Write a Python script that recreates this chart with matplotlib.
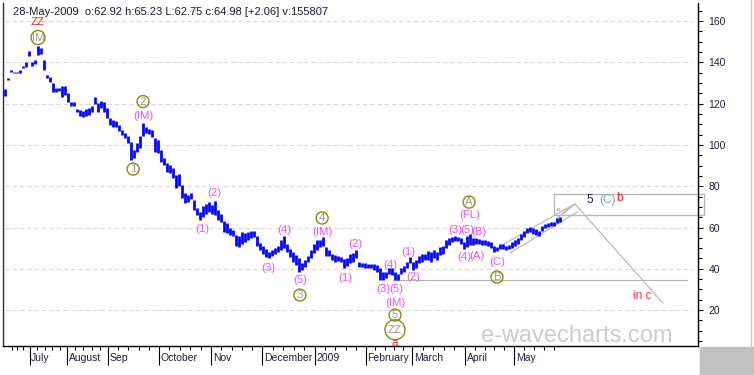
import matplotlib
matplotlib.use('Agg')
import matplotlib.pyplot as plt
import numpy as np
from matplotlib.patches import Rectangle
from matplotlib.lines import Line2D
import matplotlib.transforms as mtransforms

plt.rcParams['font.family'] = ['Liberation Sans', 'DejaVu Sans']

# ---------------- data ----------------
highs = [127.1, 132.4, 136.3, 135.3, 135.3, 136.3, 138.2, 140.2, 145.5, 140.2,
         141.1, 147.9, 146.9, 141.1, 133.8, 132.9, 130.0, 127.6, 127.6, 128.5,
         128.5, 125.1, 120.8, 120.8, 117.4, 116.9, 116.4, 117.4, 117.9, 118.8,
         123.2, 120.3, 121.3, 120.8, 117.9, 113.0, 112.1, 111.6, 109.6, 107.2,
         105.8, 104.3, 101.4, 97.5, 100.9, 104.3, 110.6, 108.7, 107.7, 107.2,
         103.3, 102.4, 97.5, 93.7, 91.2, 90.3, 88.8, 85.4, 85.9, 80.6,
         76.7, 75.7, 76.7, 73.3, 69.4, 67.5, 70.4, 71.4, 72.3, 70.9,
         72.8, 68.5, 66.5, 63.1, 62.2, 59.8, 58.8, 56.4, 55.9, 57.8,
         57.3, 57.8, 58.3, 58.3, 55.9, 52.5, 51.0, 49.6, 48.1, 49.1,
         50.1, 51.0, 53.9, 55.9, 52.0, 49.6, 48.1, 46.7, 45.2, 42.8,
         44.3, 46.2, 49.1, 52.0, 53.9, 53.9, 55.4, 50.6, 49.1, 47.2,
         46.7, 46.2, 45.7, 44.8, 45.2, 47.2, 47.6, 49.1, 43.3, 42.8,
         42.8, 42.3, 42.3, 42.3, 41.8, 40.4, 38.5, 38.5, 40.4, 40.4,
         38.5, 37.5, 40.4, 41.4, 43.3, 45.7, 43.3, 44.3, 46.2, 47.2,
         47.2, 48.6, 48.1, 49.1, 48.1, 50.6, 51.0, 53.9, 54.9, 55.4,
         55.9, 55.4, 54.9, 53.0, 55.9, 56.8, 54.9, 54.9, 54.4, 53.9,
         53.9, 53.5, 53.0, 51.0, 50.6, 52.0, 52.0, 51.0, 51.5, 53.0,
         53.9, 54.9, 56.8, 58.3, 59.8, 60.2, 59.8, 59.3, 58.3, 60.7,
         61.7, 62.2, 62.7, 62.7, 64.6, 65.23]
lows = [123.7, 131.4, 135.3, 134.8, 134.8, 134.8, 137.2, 137.7, 143.0, 138.2,
        139.2, 143.5, 144.0, 136.3, 132.4, 130.5, 125.6, 125.6, 126.1, 123.2,
        124.2, 120.8, 118.8, 118.8, 115.9, 114.0, 113.5, 114.0, 114.5, 115.9,
        119.8, 115.9, 117.9, 115.9, 113.0, 109.6, 108.7, 108.7, 106.7, 104.8,
        103.3, 100.9, 92.7, 93.7, 96.6, 98.5, 104.3, 105.8, 105.3, 103.8,
        96.6, 96.1, 91.7, 90.3, 86.9, 86.4, 84.0, 79.1, 80.1, 74.3,
        71.9, 72.3, 73.8, 68.5, 66.1, 63.6, 65.1, 66.5, 67.5, 66.5,
        66.1, 63.6, 62.7, 57.8, 57.3, 56.4, 55.9, 51.0, 50.6, 52.0,
        53.0, 53.9, 54.9, 55.4, 51.0, 49.1, 47.2, 45.7, 45.2, 46.2,
        47.2, 48.1, 49.1, 50.1, 48.1, 45.7, 43.3, 41.8, 38.5, 39.4,
        40.9, 43.3, 45.2, 47.6, 49.1, 50.6, 51.0, 46.2, 46.2, 44.3,
        43.3, 43.8, 43.3, 40.4, 41.4, 42.8, 43.3, 45.2, 40.9, 40.9,
        40.4, 40.4, 40.4, 39.4, 38.5, 34.6, 34.6, 35.5, 37.5, 37.0,
        34.6, 34.6, 37.5, 38.5, 40.4, 42.8, 39.4, 40.4, 42.8, 43.3,
        44.3, 44.3, 43.3, 45.2, 44.3, 46.7, 47.2, 50.1, 51.5, 53.0,
        53.5, 53.5, 52.0, 49.6, 50.6, 51.5, 51.5, 52.0, 52.0, 51.5,
        51.5, 51.0, 50.1, 48.1, 48.6, 49.6, 49.6, 49.1, 49.6, 50.1,
        51.0, 52.0, 53.9, 55.4, 57.3, 57.8, 56.8, 56.4, 55.9, 58.3,
        59.8, 60.2, 60.7, 60.7, 62.2, 62.75]

month_labels = ['July', 'August', 'Sep', 'October', 'Nov', 'December',
                '2009', 'February', 'March', 'April', 'May']
month_pos = [8.2, 20.7, 34.3, 51.3, 68.7, 85.7, 103.3, 120.3, 135.8, 153.3, 169.7]
y_ticks = [20, 40, 60, 80, 100, 120, 140, 160]

title = "28-May-2009  o:62.92 h:65.23 L:62.75 c:64.98 [+2.06] v:155807"

# wave labels: (text, x, y, color)
MAG = '#f050f0'
RED = '#ff2020'
plain_labels = [
    ('ZZ', 11, 159.7, RED),
    ('(IM)', 46, 114.0, MAG),
    ('(2)', 69.7, 76.7, MAG),
    ('(1)', 65.7, 59.3, MAG),
    ('(4)', 93, 58.8, MAG),
    ('(3)', 87.7, 40.4, MAG),
    ('(5)', 98.3, 34.6, MAG),
    ('(IM)', 105.7, 57.8, MAG),
    ('(2)', 116.7, 52.0, MAG),
    ('(1)', 113.3, 35.5, MAG),
    ('(4)', 128.3, 41.8, MAG),
    ('(3)', 126.0, 30.2, MAG),
    ('(5)', 130.3, 30.2, MAG),
    ('(IM)', 130.0, 23.4, MAG),
    ('a', 130.0, 4.0, RED),
    ('(1)', 134.3, 48.1, MAG),
    ('(2)', 136.0, 36.0, MAG),
    ('(FL)', 155.0, 66.1, MAG),
    ('(3)', 150.0, 58.8, MAG),
    ('(5)', 154.0, 58.8, MAG),
    ('(B)', 158.0, 57.8, MAG),
    ('(4)', 153.0, 45.9, MAG),
    ('(A)', 157.3, 46.4, MAG),
    ('(C)', 164.0, 43.5, MAG),
]
# circled labels: (text, x, y, diameter_px)
circled_labels = [
    ('IM', 11, 152.0, 14),
    ('2', 46, 121.0, 12),
    ('1', 42.7, 88.3, 12),
    ('4', 105.7, 64.6, 12),
    ('3', 98.3, 27.3, 12),
    ('5', 130.0, 17.6, 12),
    ('ZZ', 130.0, 10.5, 20),
    ('A', 154.7, 72.3, 12),
    ('B', 164.0, 36.0, 12),
]

# projection drawings (x-index, price)
support_line = ([129.3, 227.3], [34.6, 34.6])
channel_upper = ([165.7, 189.3], [51.5, 70.9])
channel_lower = ([168.3, 190.7], [47.6, 67.5])
apex_links = ([184.0, 190.0, 186.0], [64.5, 71.4, 67.0])
down_line = ([190.0, 219.3], [71.4, 23.4])
target_box = (183.0, 66.1, 50.0, 10.1)   # x, y, width, height

# ---------------- figure ----------------
W, H = 754, 375
fig = plt.figure(figsize=(W / 100, H / 100), dpi=100)
fig.patch.set_facecolor('white')
ax = fig.add_axes([3 / W, (H - 346) / H, 695 / W, 343 / H])
ax.set_xlim(-0.667, 231)
ax.set_ylim(2.62, 168.72)
ax.set_facecolor('white')

# gridlines
ax.hlines(y_ticks, 0, 229, colors='#d6d6d6', linewidth=0.75,
          linestyles=(0, (4, 3)), zorder=1)

# bars
x = np.arange(len(highs))
ax.vlines(x, lows, highs, colors='#0000ff', linewidth=1.95, zorder=3)

# projection drawings
GR = '#b4b4b4'
for xs, ys in [support_line, channel_upper, channel_lower, apex_links, down_line]:
    ax.plot(xs, ys, color=GR, lw=0.8, zorder=2)
bx, by, bw, bh = target_box
ax.add_patch(Rectangle((bx, by), bw, bh, fill=False, ec='#b8b8b8', lw=1.0,
                       clip_on=False, zorder=2))

# labels
for t, xx, yy, c in plain_labels:
    ax.text(xx, yy, t, color=c, fontsize=8.2, ha='center', va='center', zorder=5)
for t, xx, yy, d in circled_labels:
    ax.scatter([xx], [yy], s=(d * 0.72) ** 2, facecolors='none',
               edgecolors='#8a8a10', linewidths=1.0, zorder=5)
    ax.text(xx, yy, t, color='#a09a90', fontsize=8.2, ha='center', va='center', zorder=6)

ax.text(184.3, 68.3, '«', color='#ff6040', fontsize=6, ha='center', va='center', zorder=6)
ax.text(195.0, 73.3, '5', color='#202040', fontsize=8.5, ha='center', va='center')
ax.text(200.7, 73.3, '(C)', color='#70a8a8', fontsize=8.5, ha='center', va='center')
ax.text(205.0, 74.3, 'b', color=RED, fontsize=8.5, ha='center', va='center')
ax.text(212.3, 26.8, 'in c', color='#ff3050', fontsize=8.5, ha='center', va='center')

ax.text(190.5, 7.6, 'e-wavecharts.com', color='#cccccc', fontsize=17,
        ha='center', va='center', zorder=1)

# spines
ax.spines['top'].set_visible(False)
ax.spines['left'].set_color('#303030')
ax.spines['bottom'].set_color('black')
ax.spines['right'].set_color('black')
for s in ['left', 'bottom', 'right']:
    ax.spines[s].set_linewidth(1.0)

# y axis on right
ax.yaxis.tick_right()
ax.set_yticks(y_ticks)
ax.set_yticks(np.arange(5, 170, 5), minor=True)
ax.tick_params(axis='y', which='major', length=3.6, width=0.8, direction='out',
               labelsize=7.5, pad=4, colors='black', labelcolor='#202040')
ax.tick_params(axis='y', which='minor', length=2.6, width=0.8, direction='out',
               colors='black')

# x axis
ax.set_xticks(month_pos)
ax.set_xticklabels([''] * len(month_pos))
minor = [2.3, 4.0, 6.0]
for a, b in zip(month_pos[:-1], month_pos[1:]):
    minor += list(np.linspace(a, b, 6)[1:-1])
minor += list(month_pos[-1] + np.array([3.3, 6.6, 9.9, 13.2]))
ax.set_xticks(minor, minor=True)
ax.tick_params(axis='x', which='major', length=13.5, width=0.8, direction='out')
ax.tick_params(axis='x', which='minor', length=2.6, width=0.8, direction='out')
trans = mtransforms.offset_copy(ax.get_xaxis_transform(), fig=fig, x=1.2, y=-8.5, units='points')
for lab, p in zip(month_labels, month_pos):
    ax.text(p, 0, lab, transform=trans, fontsize=7.5, color='#202040',
            ha='left', va='center')

# title
fig.text(13 / W, 1 - 12 / H, title, fontsize=8, color='#1a1a3a', ha='left', va='center')

# frame decorations
fig.patches.append(Rectangle((700 / W, 0), 54 / W, 28 / H, transform=fig.transFigure,
                             color='#c0c0c0', zorder=0))
fig.lines.append(Line2D([751 / W, 751 / W], [28 / H, 1], transform=fig.transFigure,
                        color='#c8c8c8', lw=1))

fig.savefig('out.png', dpi=100)
